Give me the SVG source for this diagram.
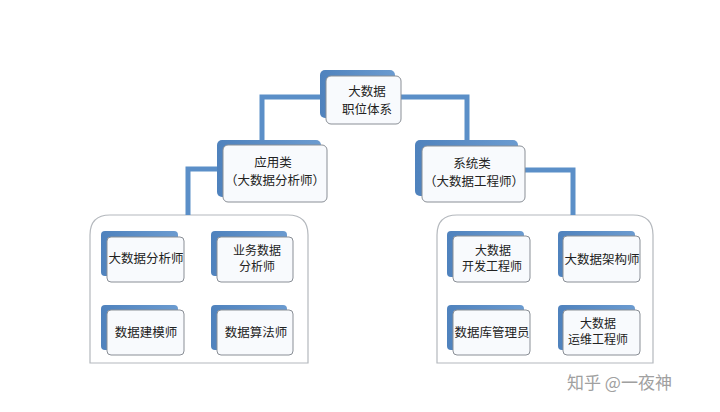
<svg xmlns="http://www.w3.org/2000/svg" width="720" height="412" viewBox="0 0 720 412">
<defs>
<linearGradient id="bg" x1="0" y1="0" x2="1" y2="0">
<stop offset="0" stop-color="#4f82bd"/>
<stop offset="1" stop-color="#6b9bd0"/>
</linearGradient>
<style>
.sh{fill:url(#bg)}
.bx{fill:#f8fafd;stroke:#8a8f96;stroke-width:1}
.ct{fill:#ffffff;stroke:#b4b8bd;stroke-width:1.2}
.cn{fill:none;stroke:#5b8fc8;stroke-width:5}
text{font-family:"Noto Sans CJK SC","Noto Sans",sans-serif;fill:#222;text-anchor:middle;font-size:12.5px}
.sm{font-size:12px}
.big{font-size:12.5px}
.wm{fill:#a0a0a0;font-size:17px;text-anchor:start}
</style>
</defs>
<rect width="720" height="412" fill="#ffffff"/>
<g id="containers">
<path class="ct" d="M90,363 V235 Q90,215 110,215 H288 Q308,215 308,235 V363 Z"/>
<path class="ct" d="M437,363 V235 Q437,215 457,215 H633 Q653,215 653,235 V363 Z"/>
</g>
<g id="connectors">
<path class="cn" d="M326,97 H262 V142"/>
<path class="cn" d="M401,97 H467 V142"/>
<path class="cn" d="M217,169 H188 V215"/>
<path class="cn" d="M525,170 H573 V215"/>
</g>
<g id="root">
<rect class="sh" x="320" y="70" width="75" height="48" rx="5"/>
<rect class="bx" x="326" y="76" width="75" height="48" rx="5"/>
<text class="big" x="367" y="96">大数据</text>
<text class="big" x="367" y="114">职位体系</text>
</g>
<g id="app">
<rect class="sh" x="217" y="140" width="104" height="57" rx="5"/>
<rect class="bx" x="223" y="145" width="104" height="57" rx="5"/>
<text class="big" x="273" y="167">应用类</text>
<text class="big" x="275" y="185">（大数据分析师）</text>
</g>
<g id="sys">
<rect class="sh" x="415" y="140" width="103" height="56" rx="5"/>
<rect class="bx" x="422" y="146" width="103" height="56" rx="5"/>
<text class="big" x="472" y="168">系统类</text>
<text class="big" x="474" y="186">（大数据工程师）</text>
</g>
<g id="n1">
<rect class="sh" x="101" y="231" width="77" height="45" rx="4"/>
<rect class="bx" x="107" y="237" width="77" height="45" rx="4"/>
<text x="146" y="263">大数据分析师</text>
</g>
<g id="n2">
<rect class="sh" x="211" y="231" width="76" height="45" rx="4"/>
<rect class="bx" x="217" y="237" width="76" height="45" rx="4"/>
<text class="sm" x="257" y="255">业务数据</text>
<text class="sm" x="257" y="271">分析师</text>
</g>
<g id="n3">
<rect class="sh" x="101" y="305" width="77" height="45" rx="4"/>
<rect class="bx" x="107" y="310" width="77" height="45" rx="4"/>
<text x="146" y="337">数据建模师</text>
</g>
<g id="n4">
<rect class="sh" x="211" y="305" width="76" height="45" rx="4"/>
<rect class="bx" x="217" y="310" width="76" height="45" rx="4"/>
<text x="256" y="337">数据算法师</text>
</g>
<g id="n5">
<rect class="sh" x="447" y="231" width="77" height="46" rx="4"/>
<rect class="bx" x="453" y="236" width="77" height="46" rx="4"/>
<text class="sm" x="493" y="255">大数据</text>
<text class="sm" x="492" y="271">开发工程师</text>
</g>
<g id="n6">
<rect class="sh" x="558" y="231" width="77" height="46" rx="4"/>
<rect class="bx" x="563" y="236" width="77" height="46" rx="4"/>
<text x="602" y="264">大数据架构师</text>
</g>
<g id="n7">
<rect class="sh" x="447" y="305" width="77" height="45" rx="4"/>
<rect class="bx" x="453" y="310" width="77" height="45" rx="4"/>
<text x="492" y="337">数据库管理员</text>
</g>
<g id="n8">
<rect class="sh" x="558" y="305" width="77" height="45" rx="4"/>
<rect class="bx" x="563" y="310" width="77" height="45" rx="4"/>
<text class="sm" x="598" y="328">大数据</text>
<text class="sm" x="598" y="344">运维工程师</text>
</g>
<text class="wm" x="567" y="389">知乎 @一夜神</text>
</svg>
